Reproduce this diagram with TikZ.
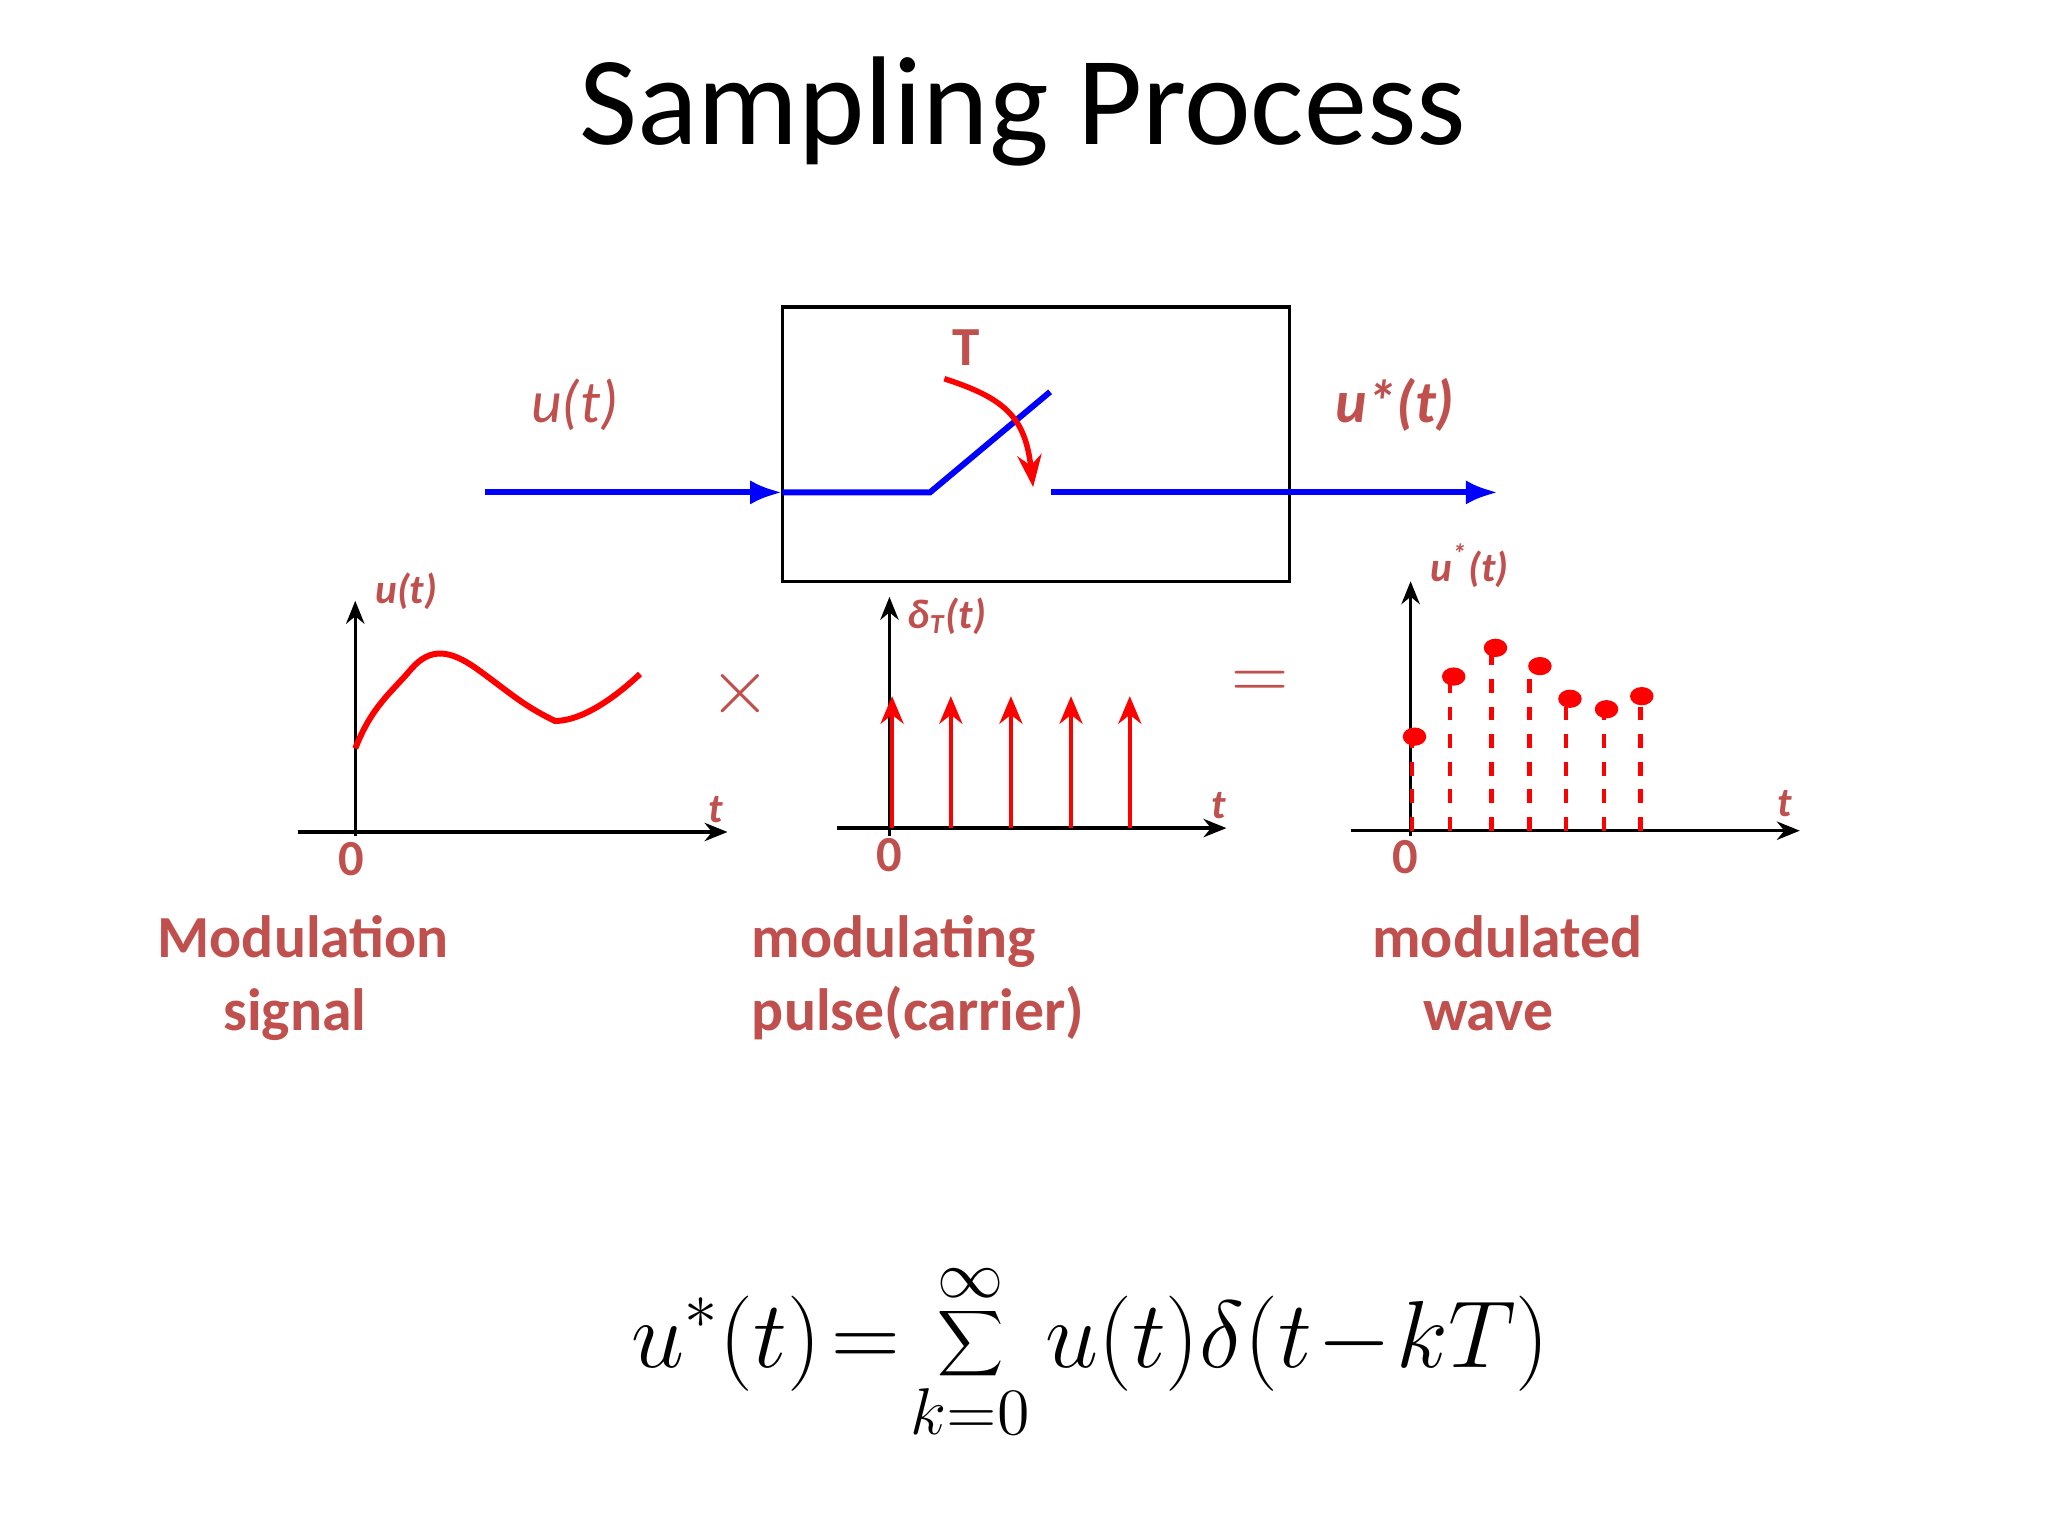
\documentclass[tikz,border=0pt]{standalone}
\usepackage{fontspec}
\setmainfont{Carlito}
\usetikzlibrary{arrows.meta}
\definecolor{br}{HTML}{C0504D}
\begin{document}
\begin{tikzpicture}[x=0.01cm,y=-0.01cm,
  ax/.style={-{Stealth[length=5pt,width=4pt]},line width=0.7pt},
  lab/.style={text=br,font=\bfseries\itshape\fontsize{9}{11}\selectfont},
  captext/.style={text=br,font=\bfseries\fontsize{13}{16}\selectfont,align=left,anchor=north west,inner sep=0pt},
  bl/.style={blue,line width=1.3pt}]
\useasboundingbox[fill=white] (0,0) rectangle (1568,1176);
\node (title) at (783,85) {\fontsize{27.5}{32}\selectfont Sampling Process};
% switch box
\draw[line width=0.7pt] (599,235) rectangle (987,445);
\coordinate (in) at (371,377); \coordinate (bi) at (599,377);
\coordinate (piv) at (712,377); \coordinate (tip) at (804,300);
\coordinate (o1) at (805,377); \coordinate (out) at (1147,377);
\draw[bl,-{Latex[length=7pt]}] (in) -- (bi);
\draw[bl] (bi) -- (piv) -- (tip);
\draw[bl,-{Latex[length=7pt]}] (o1) -- (out);
\draw[red,line width=1.2pt,-{Stealth[length=7pt]}] (723,290) .. controls (770,305) and (785,320) .. (791,373);
\node[text=br,font=\bfseries\fontsize{12}{14}\selectfont] (T) at (740,266) {T};
\node[text=br,font=\itshape\fontsize{13}{15}\selectfont] (ut) at (440,310) {u(t)};
\node[text=br,font=\bfseries\itshape\fontsize{13}{15}\selectfont] (ust) at (1068,310) {u*(t)};
% graph 1
\draw[ax] (228,637) -- (557,637);
\draw[ax] (272,640) -- (272,460);
\draw[red,line width=1.3pt] (272,573) .. controls (285,540) and (300,530) .. (315,512) .. controls (330,495) and (345,498) .. (365,512) .. controls (390,530) and (400,540) .. (425,552) .. controls (445,552) and (470,535) .. (490,516);
\node[lab] (l1) at (311,453) {u(t)};
\node[lab] (t1) at (548,620) {t};
\node[text=br,font=\bfseries\fontsize{11}{13}\selectfont] (z1) at (269,658) {0};
\node[text=br,font=\fontsize{19}{21}\selectfont] (times) at (567,531) {$\times$};
% graph 2
\draw[ax] (641,634) -- (939,634);
\draw[ax] (681,640) -- (681,457);
\foreach \x in {683,728,774,820,865}{\draw[red,line width=1pt,-{Stealth[length=6pt,width=5pt]}] (\x,634) -- (\x,533);}
\node[lab] (l2) at (725,472) {δ\textsubscript{T}(t)};
\node[lab] (t2) at (933,617) {t};
\node[text=br,font=\bfseries\fontsize{11}{13}\selectfont] (z2) at (681,655) {0};
\node[text=br,font=\fontsize{19}{21}\selectfont] (eq) at (965,525) {$=$};
% graph 3
\draw[ax] (1034,636) -- (1378,636);
\draw[ax] (1080,640) -- (1080,445);
\foreach \x/\y in {1081/564,1110/518,1142/496,1171/510,1199/535,1228/543,1256/533}{
  \draw[red,dashed,line width=1pt] (\x,636) -- (\x,\y);}
\foreach \x/\y in {1083/564,1113/518,1145/496,1179/510,1202/535,1230/543,1257/533}{
  \fill[red] (\x,\y) ellipse (9 and 7);}
\node[lab] (l3) at (1125,433) {u\textsuperscript{*}(t)};
\node[lab] (t3) at (1366,615) {t};
\node[text=br,font=\bfseries\fontsize{11}{13}\selectfont] (z3) at (1076,656) {0};
% captions
\node[captext] (c1) at (120,700) {Modulation\\\hspace*{1.1em}signal};
\node[captext] (c2) at (575,700) {modulating\\pulse(carrier)};
\node[captext] (c3) at (1050,700) {modulated\\\hspace*{0.85em}wave};
% formula
\node (f) at (835,1035) {\fontsize{21}{25}\selectfont $\displaystyle u^{*}(t)\!=\!\sum_{k=0}^{\infty}u(t)\delta(t\!-\!kT)$};
\end{tikzpicture}
\end{document}
